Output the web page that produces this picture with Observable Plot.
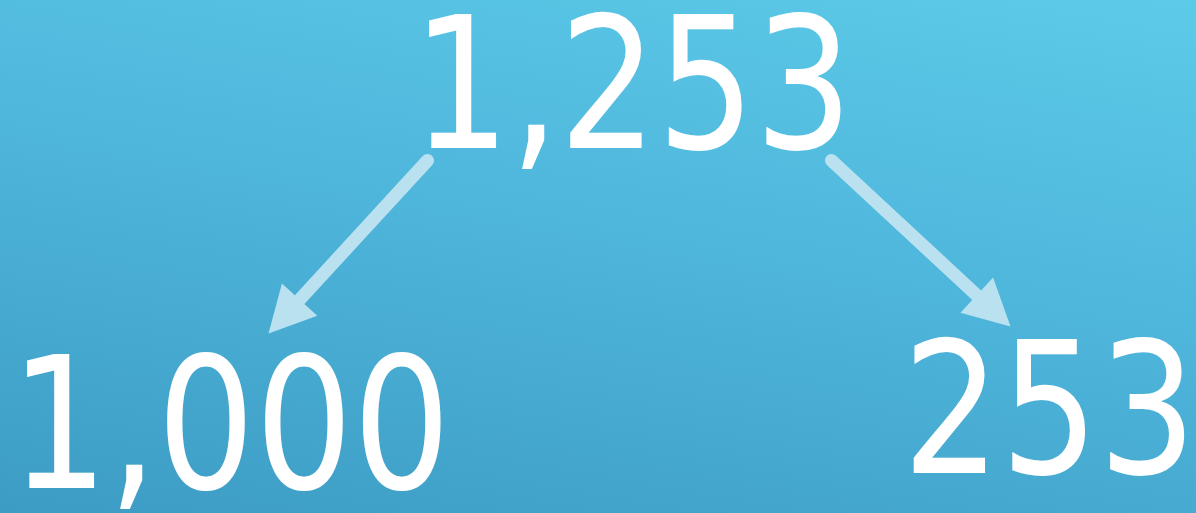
<!DOCTYPE html>
<html>
<head>
<meta charset="utf-8">
<script src="https://cdn.jsdelivr.net/npm/d3@7"></script>
<script src="https://cdn.jsdelivr.net/npm/@observablehq/plot@0.6"></script>
<style>
  html, body { margin: 0; padding: 0; background: #4aaed6; }
  svg { display: block; }
</style>
</head>
<body>
<div id="chart"></div>
<script>
// Values
const total = 1253;
const parts = [1000, 253];
const values = [total, ...parts];
const labels = values.map(d3.format(","));

// Layout (pixel space of the 1196x513 canvas): label anchor (center, baseline)
const labelX = [632, 230, 1049];
const labelY = [147, 487, 472];
// Arrow start (near total) and tip (near part)
const arrowX1 = [427, 831];
const arrowY1 = [160, 160];
const arrowX2 = [268, 1010];
const arrowY2 = [333, 326];

const W = 1196, H = 513;
const headLen = 46, headHalf = 24;
const squeeze = 0.93;

const textData = labels.map((t, i) => ({t, x: labelX[i], y: labelY[i]}));
const arrows = parts.map((p, i) => ({x1: arrowX1[i], y1: arrowY1[i], x2: arrowX2[i], y2: arrowY2[i]}));

const shafts = arrows.map(a => {
  const dx = a.x2 - a.x1, dy = a.y2 - a.y1, L = Math.hypot(dx, dy);
  const ux = dx / L, uy = dy / L;
  return {x1: a.x1, y1: a.y1, x2: a.x2 - ux * (headLen - 4), y2: a.y2 - uy * (headLen - 4)};
});
const heads = arrows.flatMap((a, i) => {
  const dx = a.x2 - a.x1, dy = a.y2 - a.y1, L = Math.hypot(dx, dy);
  const ux = dx / L, uy = dy / L, px = -uy, py = ux;
  const bx = a.x2 - ux * headLen, by = a.y2 - uy * headLen;
  return [
    {k: i, x: a.x2, y: a.y2},
    {k: i, x: bx + px * headHalf, y: by + py * headHalf},
    {k: i, x: bx - px * headHalf, y: by - py * headHalf}
  ];
});

const arrowColor = "#b9e1ef";

const chart = Plot.plot({
  width: W,
  height: H,
  margin: 0,
  x: {domain: [0, W], axis: null},
  y: {domain: [H, 0], axis: null, range: [H, 0]},
  style: {background: "linear-gradient(190deg, #5ccbe8 0%, #4fb6dc 45%, #3d9cc4 100%)", overflow: "visible"},
  marks: [
    Plot.link(shafts, {x1: "x1", y1: "y1", x2: "x2", y2: "y2", stroke: arrowColor, strokeWidth: 13, strokeLinecap: "round"}),
    Plot.line(heads, {x: "x", y: "y", z: "k", fill: arrowColor, stroke: "none", curve: "linear-closed"}),
    Plot.text(textData, {x: "x", y: "y", text: "t", fill: "white", fontSize: 184, fontFamily: "DejaVu Sans Condensed", textAnchor: "middle", lineAnchor: "bottom", className: "num"})
  ]
});
document.getElementById("chart").append(chart);
// Compress the number glyphs slightly horizontally to match the reference's narrow digits
d3.select(chart).selectAll(".num text").each(function() {
  const len = this.getComputedTextLength();
  this.setAttribute("textLength", (len * squeeze).toFixed(1));
  this.setAttribute("lengthAdjust", "spacingAndGlyphs");
});
</script>
</body>
</html>
